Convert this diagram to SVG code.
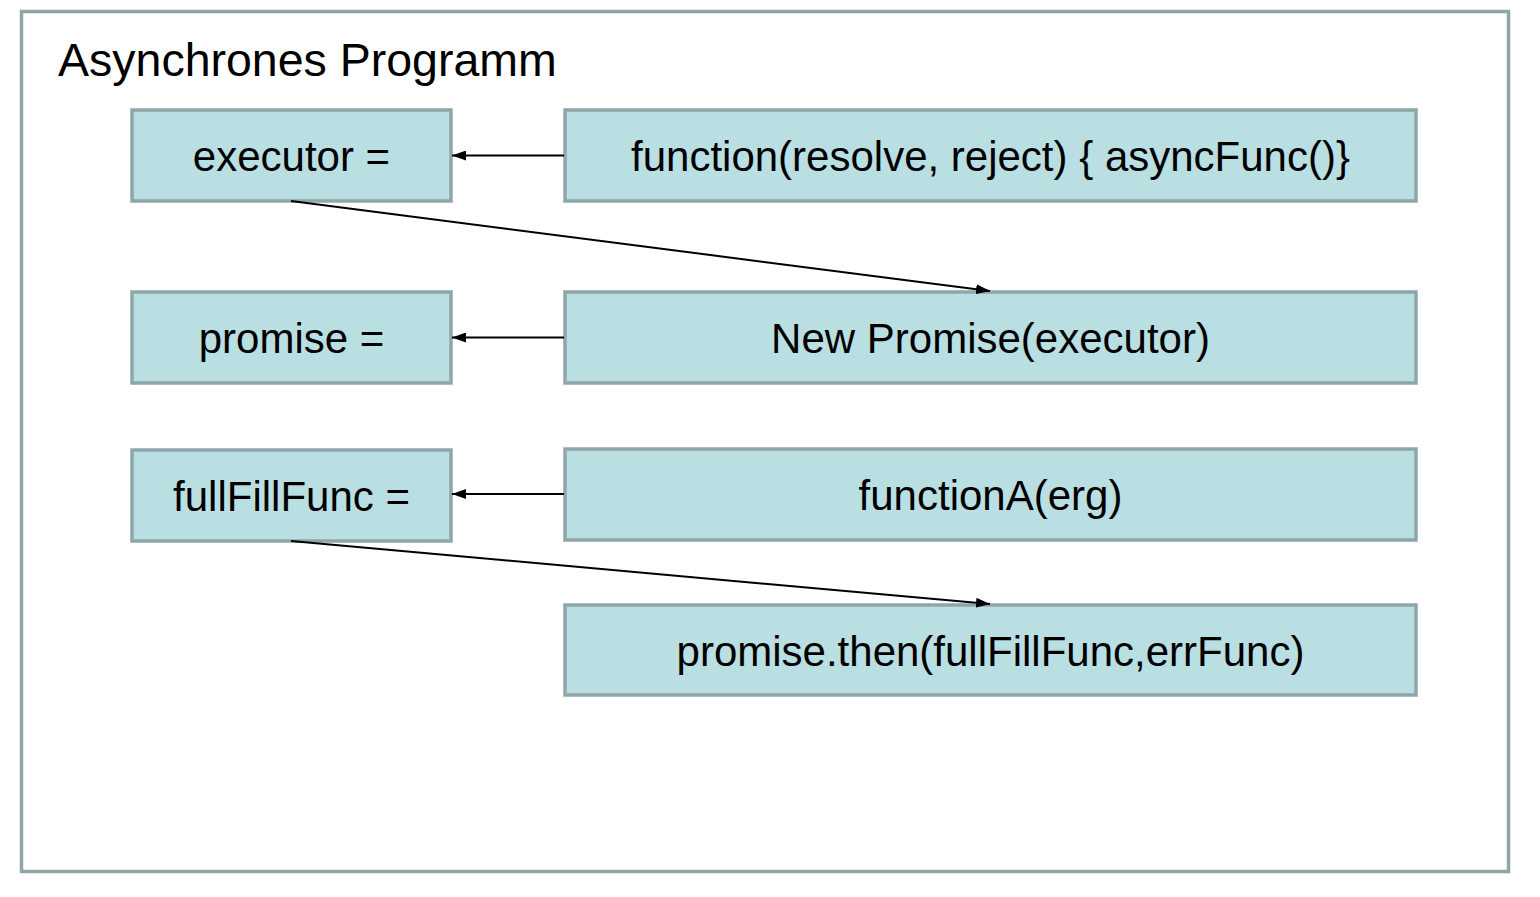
<svg xmlns="http://www.w3.org/2000/svg" width="1540" height="897" viewBox="0 0 1540 897">
<style>
.box{fill:#b9dfe2;stroke:#8ea6a8;stroke-width:3.5}
.t{font-family:"Liberation Sans",Arial,sans-serif;font-size:42px;fill:#000;text-anchor:middle}
.c{stroke:#000;stroke-width:2;fill:none;marker-end:url(#ah)}
</style>
<defs>
<marker id="ah" viewBox="0 0 14 10" refX="14" refY="5" markerWidth="14" markerHeight="10" markerUnits="userSpaceOnUse" orient="auto">
<path d="M0,0 L14,5 L0,10 z" fill="#000"/>
</marker>
</defs>
<rect width="1540" height="897" fill="#fff"/>
<g id="frame">
<rect x="21.5" y="11.5" width="1487" height="860" fill="#fff" stroke="#8ea6a8" stroke-width="3.5"/>
<text x="58" y="76" font-family="Liberation Sans,Arial,sans-serif" font-size="46.5" fill="#000">Asynchrones Programm</text>
</g>
<g id="executor"><rect class="box" x="132" y="110" width="319" height="91"/><text class="t" x="291.5" y="171">executor =</text></g>
<g id="func"><rect class="box" x="565" y="110" width="851" height="91"/><text class="t" x="990.5" y="171">function(resolve, reject) { asyncFunc()}</text></g>
<g id="promise"><rect class="box" x="132" y="292" width="319" height="91"/><text class="t" x="291.5" y="353">promise =</text></g>
<g id="newpromise"><rect class="box" x="565" y="292" width="851" height="91"/><text class="t" x="990.5" y="353">New Promise(executor)</text></g>
<g id="fullfill"><rect class="box" x="132" y="450" width="319" height="91"/><text class="t" x="291.5" y="511">fullFillFunc =</text></g>
<g id="functionA"><rect class="box" x="565" y="449" width="851" height="91"/><text class="t" x="990.5" y="510">functionA(erg)</text></g>
<g id="then"><rect class="box" x="565" y="605" width="851" height="90"/><text class="t" x="990.5" y="666">promise.then(fullFillFunc,errFunc)</text></g>
<g id="connectors">
<line class="c" x1="564" y1="155.5" x2="452" y2="155.5"/>
<line class="c" x1="564" y1="337.5" x2="452" y2="337.5"/>
<line class="c" x1="564" y1="494" x2="452" y2="494"/>
<line class="c" x1="291" y1="201" x2="990" y2="291"/>
<line class="c" x1="291" y1="541" x2="990" y2="604"/>
</g>
</svg>
